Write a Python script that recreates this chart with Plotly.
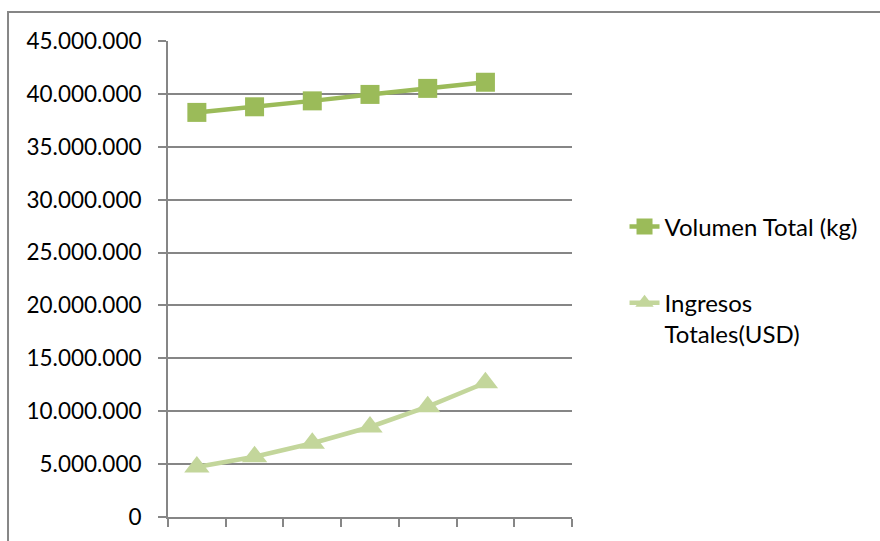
import plotly.graph_objects as go

# Periods (six observed, one empty slot on the category axis)
periodos = [1, 2, 3, 4, 5, 6]
n_slots = 7

volumen_total_kg = [38_250_000, 38_780_000, 39_340_000, 39_950_000, 40_520_000, 41_100_000]
ingresos_totales_usd = [4_730_000, 5_700_000, 6_970_000, 8_510_000, 10_430_000, 12_690_000]

y_ticks = [0, 5_000_000, 10_000_000, 15_000_000, 20_000_000, 25_000_000,
           30_000_000, 35_000_000, 40_000_000, 45_000_000]

GRAY = "#868686"
FONT = "Lato"

fig = go.Figure()

fig.add_trace(go.Scatter(
    x=periodos, y=volumen_total_kg, name="Volumen Total (kg)",
    mode="lines+markers", legendgroup="a",
    line=dict(color="#9BBB59", width=4.5),
    marker=dict(symbol="square", size=19, color="#9BBB59"),
))
fig.add_trace(go.Scatter(
    x=periodos, y=ingresos_totales_usd, name="Ingresos<br>Totales(USD)",
    mode="lines+markers", legendgroup="b",
    line=dict(color="#C3D69B", width=4.5),
    marker=dict(symbol="triangle-up", size=22, color="#C3D69B"),
))

# outer chart border (runs off the right and bottom of the page)
fig.add_shape(type="rect", xref="paper", yref="paper",
              x0=-0.396, x1=2.0, y0=-0.3, y1=1.061,
              line=dict(color=GRAY, width=2), layer="below")

fig.update_layout(
    width=880, height=541,
    margin=dict(l=168, r=308, t=41, b=24),
    paper_bgcolor="white", plot_bgcolor="white",
    separators=",.",
    font=dict(family=FONT, size=23, color="#000000"),
    showlegend=True,
    legend=dict(x=1.13, y=0.497, xanchor="left", yanchor="middle",
                tracegroupgap=42, valign="top",
                font=dict(family=FONT, size=24, color="#000000")),
    xaxis=dict(
        range=[0.5, n_slots + 0.5],
        tickvals=[i + 0.5 for i in range(n_slots + 1)],
        showticklabels=False, showgrid=False, zeroline=False,
        showline=True, linecolor=GRAY, linewidth=2,
        ticks="outside", ticklen=8, tickcolor=GRAY, tickwidth=2,
    ),
    yaxis=dict(
        range=[0, 45_000_000], tickvals=y_ticks, tickformat=",d",
        showgrid=True, gridcolor=GRAY, gridwidth=2,
        zeroline=False, showline=True, linecolor=GRAY, linewidth=2,
        ticks="outside", ticklen=8, tickcolor=GRAY, tickwidth=2,
        ticklabelstandoff=12,
        tickfont=dict(family=FONT, size=22.5, color="#000000"),
    ),
)

fig.write_html("out.html")
